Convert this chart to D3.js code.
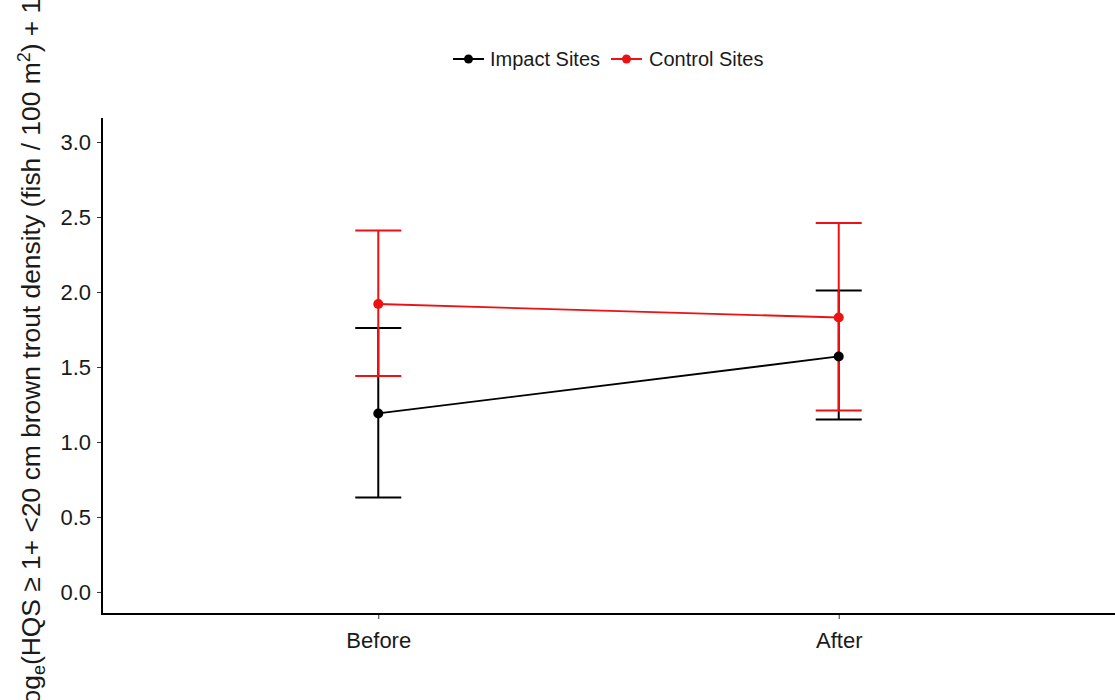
<!DOCTYPE html>
<html><head><meta charset="utf-8">
<script src="https://cdn.jsdelivr.net/npm/d3@7"></script>
<style>body{margin:0;background:#fff}svg{display:block}text{font-family:"Liberation Sans",Arial,sans-serif}</style>
</head><body>
<svg id="c" width="1115" height="700"></svg>
<script>
const periods = ["Before", "After"];
const seriesNames = ["Impact Sites", "Control Sites"];
const seriesColors = ["#000000", "#ee1111"];
const impactMean = [1.19, 1.57];
const impactLow = [0.63, 1.15];
const impactHigh = [1.76, 2.01];
const controlMean = [1.92, 1.83];
const controlLow = [1.44, 1.21];
const controlHigh = [2.41, 2.46];
const yTicks = [0, 0.5, 1.0, 1.5, 2.0, 2.5, 3.0];

const series = [
  {name: seriesNames[0], color: seriesColors[0], mean: impactMean, lo: impactLow, hi: impactHigh},
  {name: seriesNames[1], color: seriesColors[1], mean: controlMean, lo: controlLow, hi: controlHigh}
];

const svg = d3.select("#c");
const L = 102, R = 1115, T = 118, B = 614;
const x = d3.scalePoint().domain(periods).range([L, R]).padding(0.6);
const y = d3.scaleLinear().domain([-0.147, 3.16]).range([B, T]);

// axes
const yAxis = svg.append("g").attr("transform", `translate(${L},0)`)
  .call(d3.axisLeft(y).tickValues(yTicks).tickFormat(d3.format(".1f")).tickSize(5).tickSizeOuter(0));
yAxis.select(".domain").remove();
yAxis.selectAll(".tick line").attr("stroke", "#333").attr("stroke-width", 1);
yAxis.selectAll(".tick text").attr("font-size", 22).attr("fill", "#1a1a1a").attr("x", -11).attr("dy", "0.36em");

const xAxis = svg.append("g").attr("transform", `translate(0,${B})`)
  .call(d3.axisBottom(x).tickSize(5).tickSizeOuter(0));
xAxis.select(".domain").remove();
xAxis.selectAll(".tick line").attr("stroke", "#333").attr("stroke-width", 1);
xAxis.selectAll(".tick text").attr("font-size", 22).attr("fill", "#1a1a1a").attr("y", 34).attr("dy", "0");

svg.append("line").attr("x1", L).attr("x2", L).attr("y1", T).attr("y2", B + 1).attr("stroke", "#000").attr("stroke-width", 2);
svg.append("line").attr("x1", L - 1).attr("x2", R).attr("y1", B).attr("y2", B).attr("stroke", "#000").attr("stroke-width", 2);

// error bars
const cap = 23;
series.forEach(s => {
  const g = svg.append("g").attr("stroke", s.color).attr("stroke-width", 2).attr("fill", "none");
  periods.forEach((p, i) => {
    g.append("line").attr("x1", x(p)).attr("x2", x(p)).attr("y1", y(s.lo[i])).attr("y2", y(s.hi[i]));
    g.append("line").attr("x1", x(p) - cap).attr("x2", x(p) + cap).attr("y1", y(s.lo[i])).attr("y2", y(s.lo[i]));
    g.append("line").attr("x1", x(p) - cap).attr("x2", x(p) + cap).attr("y1", y(s.hi[i])).attr("y2", y(s.hi[i]));
  });
});
// lines
const line = d3.line().x((d, i) => x(periods[i])).y(d => y(d));
series.forEach(s => {
  svg.append("path").attr("d", line(s.mean)).attr("stroke", s.color).attr("stroke-width", 1.8).attr("fill", "none");
});
// points
series.forEach(s => {
  svg.selectAll(null).data(s.mean).enter().append("circle")
    .attr("cx", (d, i) => x(periods[i])).attr("cy", d => y(d)).attr("r", 5).attr("fill", s.color);
});

// legend
const leg = svg.append("g");
const legItems = [{x0: 453, tx: 490}, {x0: 611, tx: 649}];
series.forEach((s, i) => {
  const k = legItems[i];
  leg.append("line").attr("x1", k.x0).attr("x2", k.x0 + 31).attr("y1", 59).attr("y2", 59).attr("stroke", s.color).attr("stroke-width", 2);
  leg.append("circle").attr("cx", k.x0 + 15.5).attr("cy", 59).attr("r", 4.5).attr("fill", s.color);
  leg.append("text").attr("x", k.tx).attr("y", 59).attr("dy", "0.36em").attr("font-size", 20).attr("fill", "#1a1a1a").text(s.name);
});

// y title
const yt = svg.append("text").attr("transform", "translate(40,-10) rotate(-90)")
  .attr("font-size", 26.4).attr("fill", "#1a1a1a").attr("text-anchor", "end");
yt.append("tspan").text("log");
yt.append("tspan").attr("font-size", 18).attr("baseline-shift", "-25%").text("e");
yt.append("tspan").text("(HQS \u2265 1+ <20 cm brown trout density (fish / 100 m");
yt.append("tspan").attr("font-size", 18).attr("baseline-shift", "super").text("2");
yt.append("tspan").text(") + 1)");
</script>
</body></html>
